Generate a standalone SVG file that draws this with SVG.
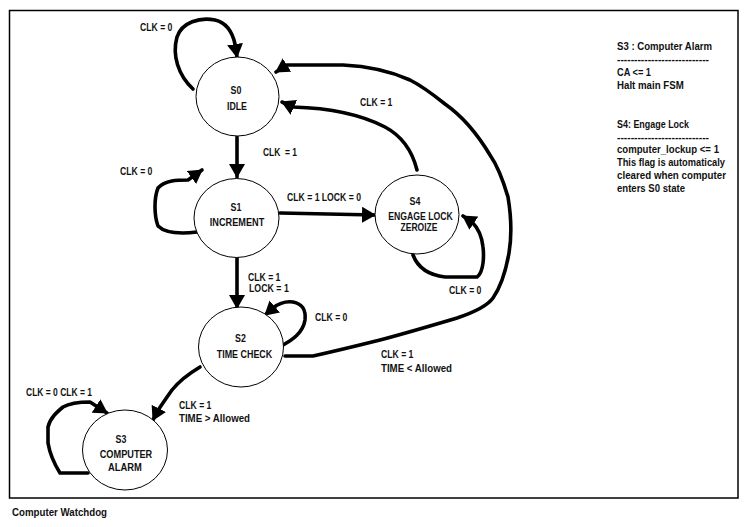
<svg xmlns="http://www.w3.org/2000/svg" width="747" height="527" viewBox="0 0 747 527">
<style>
.t{font-family:"Liberation Sans",Arial,sans-serif;font-weight:bold;font-size:10.5px;fill:#111;}
.m{text-anchor:middle;}
.st{fill:#fff;stroke:#000;stroke-width:1;}
.e{fill:none;stroke:#000;stroke-width:3.6;stroke-linecap:round;stroke-linejoin:round;marker-end:url(#ah);}
</style>
<defs>
<marker id="ah" viewBox="0 0 14 16" refX="13" refY="8" markerWidth="14" markerHeight="16" markerUnits="userSpaceOnUse" orient="auto">
<path d="M0,0 L14,8 L0,16 Z" fill="#000"/>
</marker>
</defs>
<rect x="0" y="0" width="747" height="527" fill="#fff"/>
<rect x="9.5" y="10.5" width="728.5" height="487.5" fill="none" stroke="#000" stroke-width="1.5"/>

<g id="connectors">
<path class="e" d="M193,89 C178,75 172,55 177,37 C182,22 200,17 215,20 C228,23 233,35 235,44 L237,57"/>
<path class="e" d="M237,137 L237,177"/>
<path class="e" d="M197,232 C180,234 165,233 158,226 C154,215 154,198 158,188 C165,180 178,180 188,180 L202,170"/>
<path class="e" d="M280,213 L375,215"/>
<path class="e" d="M417,170 C412,150 400,135 385,127 C360,114 330,108 293,107 L282,102"/>
<path class="e" d="M413,255 C418,268 428,275 445,277 L477,277 C484,272 484,255 483,247 C482,237 478,228 472,222 L463,216"/>
<path class="e" d="M237,258 L237,308"/>
<path class="e" d="M283,345 C292,340 303,333 305,320 C306,310 303,304 293,302 C285,301 278,304 273,308 L265,315"/>
<path class="e" d="M285,356 L313,356 C340,350 360,345 380,340 C410,332 430,326 457,318 C475,312 488,305 493,298 C502,285 506,270 509,253 C512,235 511,215 508,197 C503,180 497,165 490,155 C478,135 465,118 445,104 C430,92 420,85 410,80 C390,71 365,66 343,65 L287,65 L276,72"/>
<path class="e" d="M200,367 C190,373 180,380 172,390 C165,400 160,407 157,412 L153,420"/>
<path class="e" d="M88,473 L60,473 C55,465 50,455 48,443 L48,427 C50,418 57,412 63,407 C70,403 80,402 90,402 L107,413"/>
</g>

<g id="edge-labels">
<text class="t" x="140" y="31" textLength="32.4" lengthAdjust="spacingAndGlyphs">CLK = 0</text>
<text class="t" x="263" y="156" textLength="34" lengthAdjust="spacingAndGlyphs" xml:space="preserve">CLK  = 1</text>
<text class="t" x="120" y="175" textLength="32.4" lengthAdjust="spacingAndGlyphs">CLK = 0</text>
<text class="t" x="287" y="201" textLength="74" lengthAdjust="spacingAndGlyphs">CLK = 1 LOCK = 0</text>
<text class="t" x="360" y="106" textLength="32.4" lengthAdjust="spacingAndGlyphs">CLK = 1</text>
<text class="t" x="449" y="293.5" textLength="32.4" lengthAdjust="spacingAndGlyphs">CLK = 0</text>
<text class="t" x="248" y="281" textLength="32.4" lengthAdjust="spacingAndGlyphs">CLK = 1</text>
<text class="t" x="249" y="291.5" textLength="39.8" lengthAdjust="spacingAndGlyphs">LOCK = 1</text>
<text class="t" x="315" y="321" textLength="32.4" lengthAdjust="spacingAndGlyphs">CLK = 0</text>
<text class="t" x="381" y="358" textLength="32.4" lengthAdjust="spacingAndGlyphs">CLK = 1</text>
<text class="t" x="381" y="371.5" textLength="71" lengthAdjust="spacingAndGlyphs">TIME &lt; Allowed</text>
<text class="t" x="26" y="396" textLength="66" lengthAdjust="spacingAndGlyphs">CLK = 0 CLK = 1</text>
<text class="t" x="179" y="408.5" textLength="32.4" lengthAdjust="spacingAndGlyphs">CLK = 1</text>
<text class="t" x="179" y="421.5" textLength="71" lengthAdjust="spacingAndGlyphs">TIME &gt; Allowed</text>
</g>

<g id="S0">
<ellipse class="st" cx="237.5" cy="96.5" rx="41.5" ry="39.5"/>
<text class="t m" x="236" y="94" textLength="10.8" lengthAdjust="spacingAndGlyphs">S0</text>
<text class="t m" x="237" y="110" textLength="19.9" lengthAdjust="spacingAndGlyphs">IDLE</text>
</g>
<g id="S1">
<ellipse class="st" cx="236.5" cy="218" rx="42.5" ry="39.5"/>
<text class="t m" x="236" y="211" textLength="10.8" lengthAdjust="spacingAndGlyphs">S1</text>
<text class="t m" x="237" y="226" textLength="54.5" lengthAdjust="spacingAndGlyphs">INCREMENT</text>
</g>
<g id="S4">
<ellipse class="st" cx="417" cy="214.5" rx="42" ry="39.5"/>
<text class="t m" x="415" y="205" textLength="10.8" lengthAdjust="spacingAndGlyphs">S4</text>
<text class="t m" x="420.5" y="219.5" textLength="64.5" lengthAdjust="spacingAndGlyphs">ENGAGE LOCK</text>
<text class="t m" x="419" y="231" textLength="37" lengthAdjust="spacingAndGlyphs">ZEROIZE</text>
</g>
<g id="S2">
<ellipse class="st" cx="241" cy="347" rx="42.5" ry="40"/>
<text class="t m" x="240.5" y="342" textLength="10.8" lengthAdjust="spacingAndGlyphs">S2</text>
<text class="t m" x="244.5" y="357.5" textLength="55.5" lengthAdjust="spacingAndGlyphs">TIME CHECK</text>
</g>
<g id="S3">
<ellipse class="st" cx="125" cy="450" rx="42.5" ry="40"/>
<text class="t m" x="121" y="443" textLength="10.8" lengthAdjust="spacingAndGlyphs">S3</text>
<text class="t m" x="126" y="458" textLength="52.5" lengthAdjust="spacingAndGlyphs">COMPUTER</text>
<text class="t m" x="125" y="471" textLength="33.8" lengthAdjust="spacingAndGlyphs">ALARM</text>
</g>

<g id="notes">
<text class="t" x="617" y="50" textLength="95" lengthAdjust="spacingAndGlyphs">S3 : Computer Alarm</text>
<text class="t" x="617" y="63" textLength="92" lengthAdjust="spacingAndGlyphs">---------------------------</text>
<text class="t" x="617" y="76" textLength="34" lengthAdjust="spacingAndGlyphs">CA &lt;= 1</text>
<text class="t" x="617" y="89" textLength="66.7" lengthAdjust="spacingAndGlyphs">Halt main FSM</text>
<text class="t" x="617" y="127.5" textLength="72" lengthAdjust="spacingAndGlyphs">S4: Engage Lock</text>
<text class="t" x="617" y="140.5" textLength="92" lengthAdjust="spacingAndGlyphs">---------------------------</text>
<text class="t" x="617" y="153" textLength="102" lengthAdjust="spacingAndGlyphs">computer_lockup &lt;= 1</text>
<text class="t" x="617" y="166" textLength="108" lengthAdjust="spacingAndGlyphs">This flag is automaticaly</text>
<text class="t" x="617" y="179" textLength="109" lengthAdjust="spacingAndGlyphs">cleared when computer</text>
<text class="t" x="617" y="192" textLength="68" lengthAdjust="spacingAndGlyphs">enters S0 state</text>
</g>

<g id="caption">
<text class="t" x="12" y="516" textLength="95" lengthAdjust="spacingAndGlyphs">Computer Watchdog</text>
</g>
</svg>
